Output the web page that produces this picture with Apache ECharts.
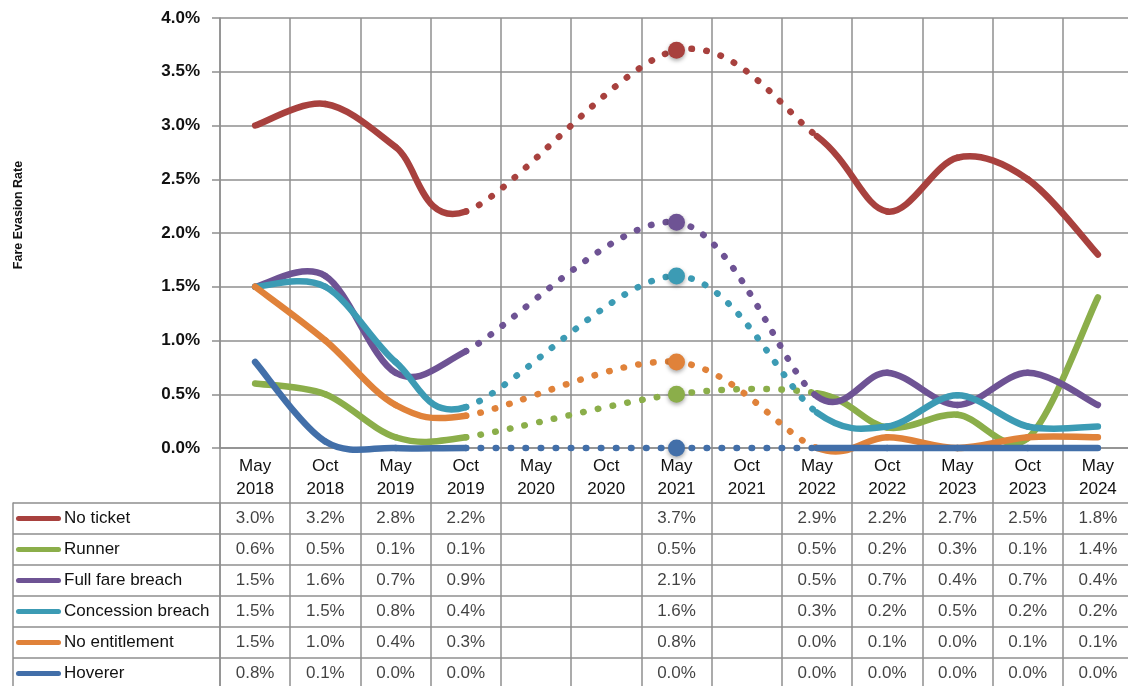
<!DOCTYPE html>
<html>
<head>
<meta charset="utf-8">
<script src="https://cdn.jsdelivr.net/npm/echarts@6/dist/echarts.min.js"></script>
<style>
html,body{margin:0;padding:0;background:#fff;}
#chart{width:1128px;height:686px;}
</style>
</head>
<body>
<div id="chart"></div>
<script>
// ---- data (percent) ----
const categories = ['May 2018','Oct 2018','May 2019','Oct 2019','May 2020','Oct 2020','May 2021','Oct 2021','May 2022','Oct 2022','May 2023','Oct 2023','May 2024'];
const seriesNames = ['No ticket','Runner','Full fare breach','Concession breach','No entitlement','Hoverer'];
const noTicket      = [3.0, 3.2, 2.8, 2.2, null, null, 3.7, null, 2.9, 2.2, 2.7, 2.5, 1.8];
const runner        = [0.6, 0.5, 0.1, 0.1, null, null, 0.5, null, 0.51, 0.19, 0.31, 0.09, 1.4];
const fullFare      = [1.5, 1.6, 0.7, 0.9, null, null, 2.1, null, 0.48, 0.7, 0.4, 0.7, 0.4];
const concession    = [1.5, 1.5, 0.8, 0.38, null, null, 1.6, null, 0.33, 0.2, 0.49, 0.2, 0.2];
const noEntitlement = [1.5, 1.0, 0.4, 0.3, null, null, 0.8, null, 0.0, 0.1, 0.0, 0.1, 0.1];
const hoverer       = [0.8, 0.06, 0.0, 0.0, null, null, 0.0, null, 0.0, 0.0, 0.0, 0.0, 0.0];
const yTicks = {min: 0, max: 4, interval: 0.5};
const markerIdx = 6; // highlighted survey inside the gap

// ---- styles ----
const colors = ['#A8413E', '#8BAE4A', '#6E5394', '#3C9BB4', '#E0823A', '#426FA9'];
const gridGray = '#8f8f8f';
const font = 'Liberation Sans, Arial, sans-serif';

const rows = [noTicket, runner, fullFare, concession, noEntitlement, hoverer];
const pct = v => v.toFixed(1) + '%';

// Excel-style smoothed line: Bezier segments with Catmull-Rom tangents (1/6),
// solid between adjacent surveys, dotted across the missing surveys.
function makeRender(pts, color) {
  return function (params, api) {
    const k = params.dataIndex;
    if (k === 0) return null;
    const n = pts.length;
    const P = j => api.coord(pts[Math.max(0, Math.min(n - 1, j))]);
    const p0 = P(k - 2), p1 = P(k - 1), p2 = P(k), p3 = P(k + 1);
    const d12 = Math.hypot(p2[0] - p1[0], p2[1] - p1[1]);
    const lim = v => {
      const L = Math.hypot(v[0], v[1]);
      return (L > d12 / 2 && L > 0) ? [v[0] * d12 / 2 / L, v[1] * d12 / 2 / L] : v;
    };
    const t1 = lim([(p2[0] - p0[0]) / 6, (p2[1] - p0[1]) / 6]);
    const t2 = lim([(p3[0] - p1[0]) / 6, (p3[1] - p1[1]) / 6]);
    const dotted = pts[k][0] - pts[k - 1][0] > 1;
    return {
      type: 'bezierCurve',
      shape: {x1: p1[0], y1: p1[1], cpx1: p1[0] + t1[0], cpy1: p1[1] + t1[1],
              cpx2: p2[0] - t2[0], cpy2: p2[1] - t2[1], x2: p2[0], y2: p2[1]},
      style: {stroke: color, fill: null, lineWidth: 6.5, lineCap: 'round', lineJoin: 'round',
              lineDash: dotted ? [0.5, 14.5] : null}
    };
  };
}

const series = [];
rows.forEach((vals, r) => {
  const pts = [];
  vals.forEach((v, i) => { if (v !== null) pts.push([i, v]); });
  series.push({
    type: 'custom', name: seriesNames[r], xAxisIndex: 0, yAxisIndex: 0,
    data: pts, encode: {x: 0, y: 1}, renderItem: makeRender(pts, colors[r]),
    clip: false, z: 3 + r, silent: true
  });
  series.push({
    type: 'scatter', name: seriesNames[r] + ' marker', xAxisIndex: 0, yAxisIndex: 0,
    data: [[markerIdx, vals[markerIdx]]], symbol: 'circle', symbolSize: 17,
    itemStyle: {color: colors[r], opacity: 1, shadowBlur: 4, shadowOffsetY: 2, shadowColor: 'rgba(0,0,0,0.35)'},
    z: 10 + r, silent: true
  });
});

// table cell texts
const cells = [];
rows.forEach((vals, r) => vals.forEach((v, i) => { if (v !== null) cells.push([i, r, v]); }));
series.push({
  type: 'scatter', xAxisIndex: 1, yAxisIndex: 1, data: cells,
  symbolSize: 1, itemStyle: {color: 'rgba(0,0,0,0)'},
  label: {show: true, position: 'inside', formatter: p => pct(p.value[2]),
          fontFamily: font, fontSize: 17, color: '#111'},
  silent: true
});

const rich = {n: {fontFamily: font, fontSize: 17, color: '#111', padding: [0, 0, 0, 3]}};
colors.forEach((c, i) => { rich['k' + i] = {width: 45, height: 5, backgroundColor: c, borderRadius: 3}; });

const option = {
  animation: false,
  backgroundColor: '#fff',
  grid: [
    {left: 220, width: 913, top: 18, height: 430, containLabel: false, outerBoundsMode: 'none'},
    {left: 220, width: 913, top: 503, height: 186, containLabel: false, outerBoundsMode: 'none'}
  ],
  xAxis: [
    {
      type: 'category', gridIndex: 0, data: categories, boundaryGap: true,
      axisLine: {show: true, lineStyle: {color: gridGray, width: 1.5}},
      axisTick: {show: true, interval: 0, length: 55, lineStyle: {color: gridGray, width: 1.5}},
      splitLine: {show: true, interval: 0, lineStyle: {color: gridGray, width: 1.5}},
      axisLabel: {interval: 0, formatter: v => v.replace(' ', '\n'), fontFamily: font,
                  fontSize: 17, lineHeight: 23, color: '#111', margin: 7}
    },
    {
      type: 'category', gridIndex: 1, data: categories, boundaryGap: true,
      axisLine: {show: false}, axisTick: {show: false}, axisLabel: {show: false},
      splitLine: {show: true, interval: 0, lineStyle: {color: gridGray, width: 1.5}}
    }
  ],
  yAxis: [
    {
      type: 'value', gridIndex: 0, min: yTicks.min, max: yTicks.max, interval: yTicks.interval,
      axisLine: {show: true, lineStyle: {color: gridGray, width: 1.5}},
      axisTick: {show: true, length: 8, lineStyle: {color: gridGray, width: 1.5}},
      splitLine: {show: true, lineStyle: {color: gridGray, width: 1.5}},
      axisLabel: {formatter: v => pct(v), fontFamily: font, fontSize: 17, fontWeight: 'bold',
                  color: '#111', margin: 20}
    },
    {
      type: 'category', gridIndex: 1, data: seriesNames, inverse: true, boundaryGap: true,
      axisLine: {show: true, lineStyle: {color: gridGray, width: 1.5}},
      axisTick: {show: true, interval: 0, length: 207, lineStyle: {color: gridGray, width: 1.5}},
      splitLine: {show: true, interval: 0, lineStyle: {color: gridGray, width: 1.5}},
      axisLabel: {interval: 0, align: 'left', margin: 204,
                  formatter: (v, i) => '{k' + i + '| }{n|' + v + '}', rich: rich}
    },
    {
      type: 'value', gridIndex: 1, position: 'left', offset: 207,
      axisLine: {show: true, lineStyle: {color: gridGray, width: 1.5}},
      axisTick: {show: false}, axisLabel: {show: false}, splitLine: {show: false}
    }
  ],
  graphic: [{
    type: 'text', x: 19, y: 215, rotation: Math.PI / 2,
    style: {text: 'Fare Evasion Rate', font: 'bold 12.5px ' + font, fill: '#111',
            textAlign: 'center', textVerticalAlign: 'middle'}
  }],
  series: series
};

const chart = echarts.init(document.getElementById('chart'), null, {renderer: 'canvas'});
chart.setOption(option);
</script>
</body>
</html>
